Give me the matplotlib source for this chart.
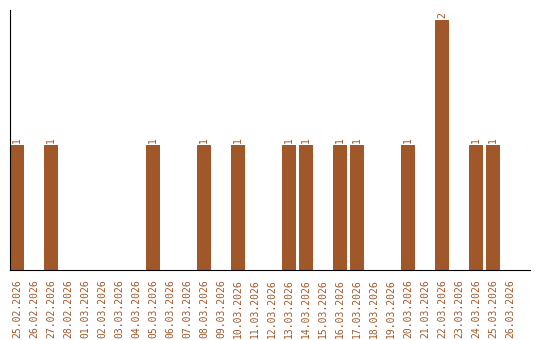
import matplotlib
matplotlib.use("Agg")
import matplotlib.pyplot as plt

dates = ["25.02.2026", "26.02.2026", "27.02.2026", "28.02.2026", "01.03.2026",
         "02.03.2026", "03.03.2026", "04.03.2026", "05.03.2026", "06.03.2026",
         "07.03.2026", "08.03.2026", "09.03.2026", "10.03.2026", "11.03.2026",
         "12.03.2026", "13.03.2026", "14.03.2026", "15.03.2026", "16.03.2026",
         "17.03.2026", "18.03.2026", "19.03.2026", "20.03.2026", "21.03.2026",
         "22.03.2026", "23.03.2026", "24.03.2026", "25.03.2026", "26.03.2026"]
counts = [1, 0, 1, 0, 0, 0, 0, 0, 1, 0,
          0, 1, 0, 1, 0, 0, 1, 1, 0, 1,
          1, 0, 0, 1, 0, 2, 0, 1, 1, 0]

color = "#A0582A"
fig = plt.figure(figsize=(5.4, 3.4), dpi=100)
ax = fig.add_axes([10/540, 70/340, 520/540, 260/340])
bw = 14/17
xs = list(range(len(dates)))
ax.bar(xs, counts, width=bw, align="edge", color=color)
for x, v in zip(xs, counts):
    if v > 0:
        ax.text(x + bw/2, v + 0.02, str(v), rotation=90, ha="center", va="bottom",
                fontsize=7, color=color, family="DejaVu Sans Mono")
ax.set_xlim(0, 520/17)
ax.set_ylim(0, 2.08)
ax.set_xticks([x + bw/2 for x in xs])
ax.set_xticklabels(dates, rotation=90, fontsize=7, color=color, family="DejaVu Sans Mono")
ax.tick_params(axis="x", length=0, pad=7)
ax.set_yticks([])
for s in ["top", "right"]:
    ax.spines[s].set_visible(False)
ax.spines["left"].set_color("black")
ax.spines["bottom"].set_color("black")
fig.savefig("out.png", dpi=100)
